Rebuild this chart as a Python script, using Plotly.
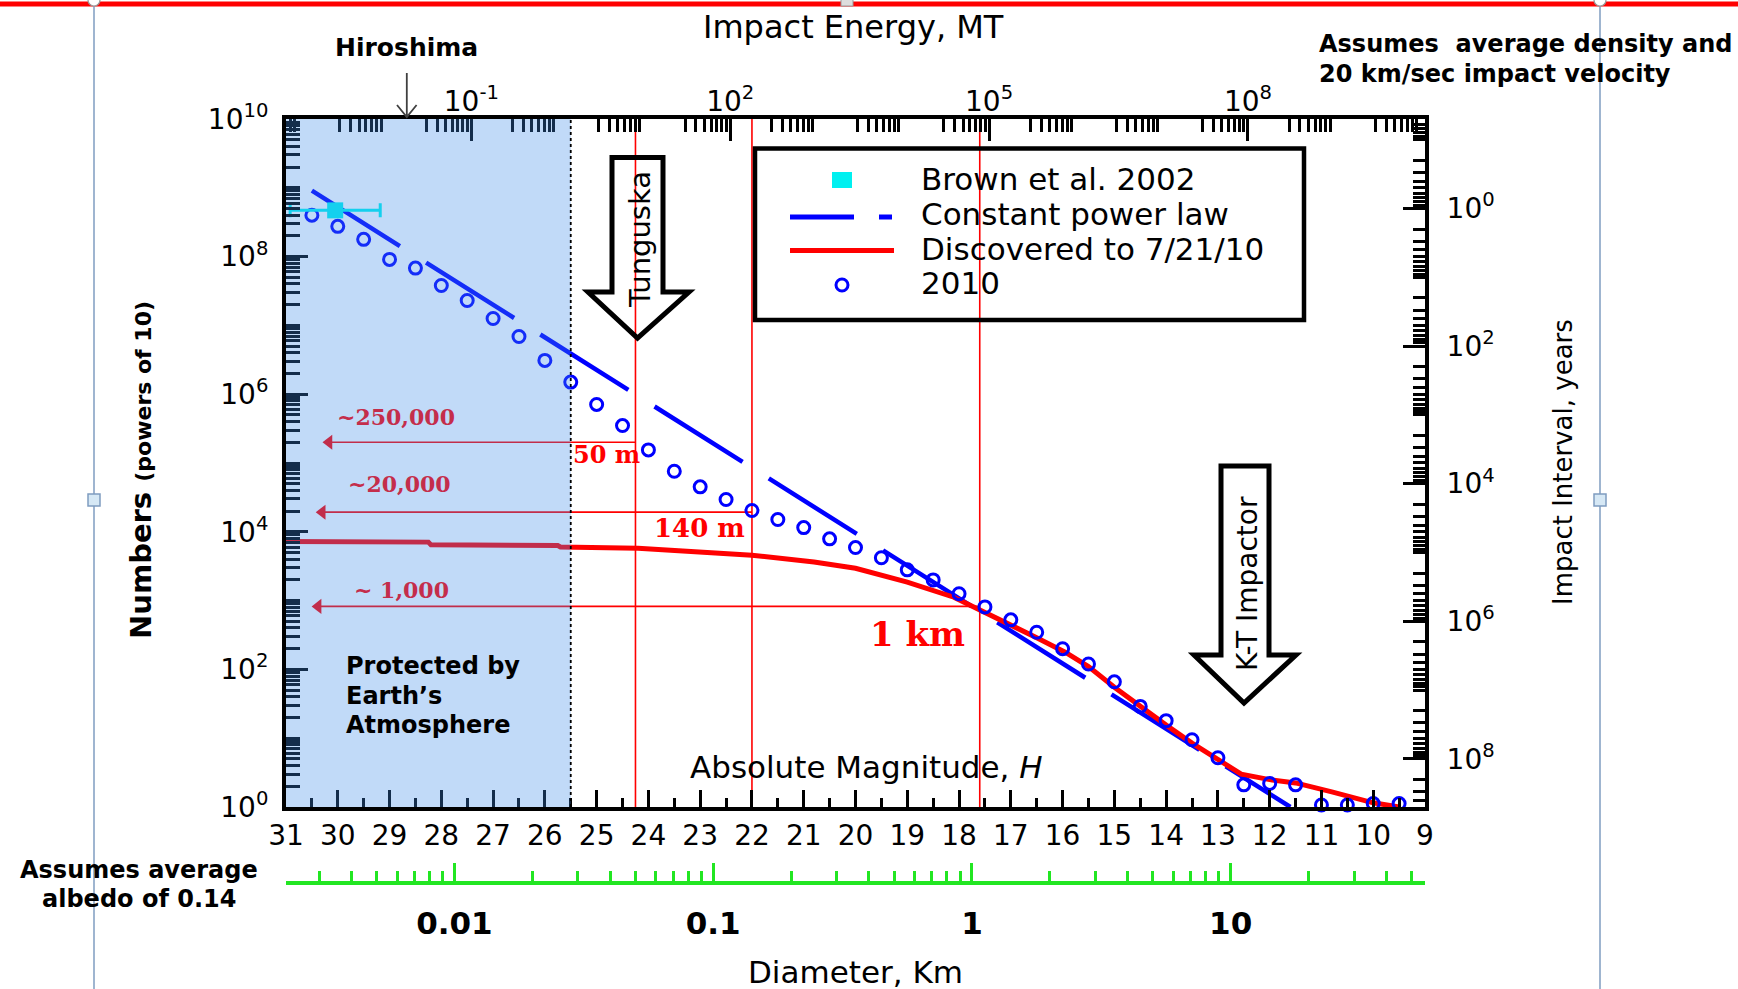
import plotly.graph_objects as go

# ------------------------------------------------------------------ data
# 2010 population estimate (absolute magnitude H -> cumulative number N)
H_2010 = [30.5, 30.0, 29.5, 29.0, 28.5, 28.0, 27.5, 27.0, 26.5, 26.0, 25.5,
          25.0, 24.5, 24.0, 23.5, 23.0, 22.5, 22.0, 21.5, 21.0, 20.5, 20.0,
          19.5, 19.0, 18.5, 18.0, 17.5, 17.0, 16.5, 16.0, 15.5, 15.0, 14.5,
          14.0, 13.5, 13.0, 12.5, 12.0, 11.5, 11.0, 10.5, 10.0, 9.5]
N_2010 = [4.0e8, 2.75e8, 1.78e8, 9.1e7, 6.8e7, 3.8e7, 2.3e7, 1.26e7, 6.9e6,
          3.1e6, 1.5e6, 7.1e5, 3.5e5, 1.55e5, 7.6e4, 4.5e4, 2.95e4, 2.04e4,
          1.51e4, 1.15e4, 7.9e3, 5.9e3, 4.2e3, 2.8e3, 2.0e3, 1.26e3, 810, 525,
          347, 200, 120, 66, 29, 18, 9.5, 5.2, 2.1, 2.2, 2.1, 1.07, 1.07, 1.12,
          1.12]

# Discovered to 7/21/10
H_disc = [31.0, 28.25, 28.2, 25.75, 25.7, 24.2, 22.0, 20.8, 20.0, 19.0, 18.1,
          17.6, 16.9, 16.5, 15.95, 15.5, 15.0, 14.5, 14.0, 13.5, 13.0, 12.55,
          12.0, 11.5, 10.8, 10.0, 9.5]
N_disc = [7240, 7080, 6460, 6310, 6030, 5750, 4570, 3630, 2950, 1860, 1120,
          740, 417, 288, 178, 110, 55, 29, 15.5, 8.5, 4.9, 3.0, 2.5, 2.24, 1.66,
          1.15, 1.0]

# Constant power law (end points)
H_powerlaw = [30.5, 11.6]
N_powerlaw = [9.1e8, 1.0]

# Brown et al. 2002
H_brown = [30.05]
N_brown = [4.7e8]
H_brown_err = [0.87]

series_names = ["Brown et al. 2002", "Constant power law",
                "Discovered to 7/21/10", "2010"]

# size thresholds (50 m, 140 m, 1 km) and the population counts they mark
threshold_H = [24.25, 22.0, 17.6]
threshold_N = [2.0e5, 1.93e4, 824]
threshold_arrow_H = [30.17, 30.30, 30.38]
threshold_sizes = ["50 m", "140 m", "1 km"]
threshold_counts = ["~250,000", "~20,000", "~ 1,000"]

atmosphere_H = 25.5          # limit of "Protected by Earth's Atmosphere"

# axes
H_ticks = list(range(31, 8, -1))
N_tickvals = [1, 1e2, 1e4, 1e6, 1e8, 1e10]
N_ticktext = ["10<sup>0</sup>", "10<sup>2</sup>", "10<sup>4</sup>",
              "10<sup>6</sup>", "10<sup>8</sup>", "10<sup>10</sup>"]
interval_tickvals = [1, 1e2, 1e4, 1e6, 1e8]
interval_ticktext = ["10<sup>0</sup>", "10<sup>2</sup>", "10<sup>4</sup>",
                     "10<sup>6</sup>", "10<sup>8</sup>"]
energy_tickvals = [0.1, 1e2, 1e5, 1e8]
energy_ticktext = ["10<sup>-1</sup>", "10<sup>2</sup>", "10<sup>5</sup>",
                   "10<sup>8</sup>"]
diam_tickvals = [0.01, 0.1, 1, 10]
diam_ticktext = ["0.01", "0.1", "1", "10"]

H_range = [31, 9]
N_range_log = [0, 10]
energy_range_log = [-3.148, 10.052]
diam_range_log = [-2.651, 1.751]
interval_range_log = [8.7, -1.3]

# ------------------------------------------------------------------ geometry
FIG_W, FIG_H = 1738, 989
L, R, T, B = 286, 1425, 119, 883      # paper area (B = diameter axis line)
PLOT_B = 807                          # bottom of the main plot


def px(x):
    return (x - L) / (R - L)


def py(y):
    return (B - y) / (B - T)


def path(points, close=False):
    s = "M" + " L".join(f"{px(x):.5f},{py(y):.5f}" for x, y in points)
    return s + (" Z" if close else "")


FONT = "DejaVu Sans"
SERIF = "DejaVu Serif"
BLUE = "#0000ff"
RED = "#ff0000"
CYAN = "#00f0f0"
GREEN = "#22e622"
CRIMSON = "#c42d4b"

fig = go.Figure()

fig.add_trace(go.Scatter(
    x=H_powerlaw, y=N_powerlaw, mode="lines", name=series_names[1],
    line=dict(color=BLUE, width=4.5, dash="104px,31px"), hoverinfo="skip"))
fig.add_trace(go.Scatter(
    x=H_disc, y=N_disc, mode="lines", name=series_names[2],
    line=dict(color=RED, width=5)))
for i in range(len(threshold_H)):
    fig.add_trace(go.Scatter(
        x=[threshold_H[i], threshold_arrow_H[i]],
        y=[threshold_N[i], threshold_N[i]], mode="lines",
        line=dict(color=RED, width=1.6), hoverinfo="skip"))
fig.add_trace(go.Scatter(
    x=threshold_arrow_H, y=threshold_N, mode="markers",
    marker=dict(symbol="triangle-left", size=13, color=RED), hoverinfo="skip"))
fig.add_trace(go.Scatter(
    x=H_2010, y=N_2010, mode="markers", name=series_names[3], cliponaxis=False,
    marker=dict(symbol="circle-open", size=12, color=BLUE,
                line=dict(width=3, color=BLUE))))
fig.add_trace(go.Scatter(
    x=H_brown, y=N_brown, mode="markers", name=series_names[0],
    marker=dict(symbol="square", size=16, color=CYAN),
    error_x=dict(type="data", array=H_brown_err, color=CYAN, thickness=3,
                 width=7)))
# empty traces so the secondary axes (energy, interval, diameter) are drawn
for xa, ya in (("x2", "y"), ("x", "y2"), ("x3", "y")):
    fig.add_trace(go.Scatter(x=[], y=[], xaxis=xa, yaxis=ya, mode="lines",
                             hoverinfo="skip", showlegend=False))

common = dict(showgrid=False, zeroline=False, showline=True, linecolor="black",
              linewidth=4, ticks="inside", tickcolor="black")
tfont = dict(family=FONT, size=28, color="black")

energy_minor = [k * 10.0 ** n for n in range(-4, 11) for k in range(3, 10)]

layout = dict(
    width=FIG_W, height=FIG_H, autosize=False, showlegend=False,
    paper_bgcolor="white", plot_bgcolor="white",
    margin=dict(l=L, r=FIG_W - R, t=T, b=FIG_H - B, pad=0, autoexpand=False),
    xaxis=dict(range=H_range, domain=[0, 1], anchor="y", tickmode="array",
               tickvals=H_ticks, ticktext=[str(v) for v in H_ticks],
               ticklen=17, tickwidth=2.5, tickfont=tfont, ticklabelstandoff=0,
               minor=dict(dtick=0.5, tick0=0, ticks="inside", ticklen=9,
                          tickwidth=2.5, tickcolor="black"), **common),
    yaxis=dict(type="log", range=N_range_log, domain=[py(PLOT_B), 1],
               anchor="x", tickmode="array", tickvals=N_tickvals,
               ticktext=N_ticktext, ticklen=22, tickwidth=3, tickfont=tfont,
               ticklabelstandoff=8,
               minor=dict(dtick="D1", ticks="inside", ticklen=14, tickwidth=3,
                          tickcolor="black"), **common),
    xaxis2=dict(type="log", range=energy_range_log, overlaying="x", side="top",
                anchor="y", tickmode="array", tickvals=energy_tickvals,
                ticktext=energy_ticktext, ticklen=22, tickwidth=3,
                tickfont=tfont, ticklabelstandoff=-7,
                minor=dict(tickmode="array", tickvals=energy_minor,
                           ticks="inside", ticklen=13, tickwidth=3,
                           tickcolor="black"), **common),
    yaxis2=dict(type="log", range=interval_range_log, overlaying="y",
                side="right", anchor="x", tickmode="array",
                tickvals=interval_tickvals, ticktext=interval_ticktext,
                ticklen=22, tickwidth=3, tickfont=tfont, ticklabelstandoff=12,
                minor=dict(dtick="D1", ticks="inside", ticklen=12,
                           tickwidth=3, tickcolor="black"), **common),
    xaxis3=dict(type="log", range=diam_range_log, overlaying="x",
                anchor="free", position=0, side="bottom", showgrid=False,
                zeroline=False, showline=True, linecolor=GREEN, linewidth=3.5,
                ticks="inside", tickcolor=GREEN, ticklen=18, tickwidth=2.5,
                tickmode="array", tickvals=diam_tickvals,
                ticktext=[f"<b>{t}</b>" for t in diam_ticktext],
                tickfont=dict(family=FONT, size=31, color="black"),
                ticklabelstandoff=12,
                minor=dict(dtick="D1", ticks="inside", ticklen=10,
                           tickwidth=2.5, tickcolor=GREEN)),
)
fig.update_layout(**layout)

shapes = []
# threshold verticals
for h in threshold_H:
    shapes.append(dict(type="line", xref="x", yref="y domain", x0=h, x1=h,
                       y0=0, y1=1, layer="below",
                       line=dict(color=RED, width=1.6)))
# atmosphere region (translucent overlay) and its dotted edge
shapes.append(dict(type="rect", xref="x", yref="y domain", x0=H_range[0],
                   x1=atmosphere_H, y0=0, y1=1, layer="above",
                   fillcolor="rgba(62,140,234,0.32)", line=dict(width=0)))
shapes.append(dict(type="line", xref="x", yref="y domain", x0=atmosphere_H,
                   x1=atmosphere_H, y0=0, y1=1, layer="above",
                   line=dict(color="black", width=1.8, dash="dot")))


# block arrows
def block_arrow(xl, xr, top, shoulder, hl, hr, tip):
    pts = [(xl, top), (xr, top), (xr, shoulder), (hr, shoulder), tip,
           (hl, shoulder), (xl, shoulder)]
    return dict(type="path", xref="paper", yref="paper", layer="above",
                path=path(pts, close=True), line=dict(color="black", width=5),
                fillcolor="rgba(0,0,0,0)")


shapes.append(block_arrow(612, 663, 157.5, 292, 588, 689, (637.5, 338)))
shapes.append(block_arrow(1221, 1269, 466, 655, 1194, 1296, (1244, 703)))

# Hiroshima arrow
shapes.append(dict(type="path", xref="paper", yref="paper", layer="above",
                   path=path([(406.8, 73), (406.8, 117)]) + " " +
                   path([(397, 105), (406.8, 117), (416.6, 105)]),
                   line=dict(color="#404040", width=1.8)))

# legend box and samples
shapes.append(dict(type="rect", xref="paper", yref="paper", layer="above",
                   x0=px(755), x1=px(1304), y0=py(320), y1=py(148.5),
                   line=dict(color="black", width=4.5)))
shapes.append(dict(type="rect", xref="paper", yref="paper", layer="above",
                   x0=px(832), x1=px(852), y0=py(188), y1=py(172),
                   fillcolor=CYAN, line=dict(width=0)))
shapes.append(dict(type="line", xref="paper", yref="paper", layer="above",
                   x0=px(790), x1=px(854), y0=py(217), y1=py(217),
                   line=dict(color=BLUE, width=5)))
shapes.append(dict(type="line", xref="paper", yref="paper", layer="above",
                   x0=px(879), x1=px(892), y0=py(217), y1=py(217),
                   line=dict(color=BLUE, width=5)))
shapes.append(dict(type="line", xref="paper", yref="paper", layer="above",
                   x0=px(790), x1=px(894), y0=py(250.5), y1=py(250.5),
                   line=dict(color=RED, width=5)))
shapes.append(dict(type="circle", xref="paper", yref="paper", layer="above",
                   x0=px(836), x1=px(848), y0=py(291), y1=py(279),
                   line=dict(color=BLUE, width=3)))

# slide frame decorations
FRAME = "#7f9cc0"
shapes.append(dict(type="line", xref="paper", yref="paper", layer="above",
                   x0=px(0), x1=px(FIG_W), y0=py(4), y1=py(4),
                   line=dict(color=RED, width=5)))
for xv in (94, 1600):
    shapes.append(dict(type="line", xref="paper", yref="paper", layer="above",
                       x0=px(xv), x1=px(xv), y0=py(6), y1=py(FIG_H),
                       line=dict(color=FRAME, width=1.5)))
    shapes.append(dict(type="rect", xref="paper", yref="paper", layer="above",
                       x0=px(xv - 6), x1=px(xv + 6), y0=py(506), y1=py(494),
                       fillcolor="#d6e8f5", line=dict(color=FRAME, width=1.5)))
    shapes.append(dict(type="circle", xref="paper", yref="paper",
                       layer="above", x0=px(xv - 6), x1=px(xv + 6),
                       y0=py(6), y1=py(-6), fillcolor="white",
                       line=dict(color="#999999", width=1.2)))
shapes.append(dict(type="rect", xref="paper", yref="paper", layer="above",
                   x0=px(841), x1=px(853), y0=py(6), y1=py(-2),
                   fillcolor="#dddddd", line=dict(color="#999999", width=1)))

fig.update_layout(shapes=shapes)


def ann(text, x, y, size, family=FONT, color="black", xanchor="center",
        angle=0):
    return dict(text=text, x=px(x), y=py(y), xref="paper", yref="paper",
                showarrow=False, xanchor=xanchor, yanchor="middle",
                textangle=angle,
                font=dict(family=family, size=size, color=color))


anns = [
    ann("Impact Energy, MT", 853.5, 27, 32),
    ann("<b>Hiroshima</b>", 406.5, 47.5, 25),
    ann("<b>Assumes  average density and</b>", 1317, 44.3, 24, xanchor="left"),
    ann("<b>20 km/sec impact velocity</b>", 1317, 74.3, 24, xanchor="left"),
    ann("<b>Numbers <span style='font-size:22px'>(powers of 10)</span></b>",
        141, 470, 29, angle=-90),
    ann("Impact Interval, years", 1563, 462, 26, angle=-90),
    ann("Absolute Magnitude, <i>H</i>", 866.8, 767, 31),
    ann("Diameter, Km", 855.7, 972, 31),
    ann("<b>Assumes average</b>", 138.5, 870, 24),
    ann("<b>albedo of 0.14</b>", 138.5, 899, 24),
    ann("<b>Protected by</b>", 343.6, 666, 24, xanchor="left"),
    ann("<b>Earth’s</b>", 343.6, 696, 24, xanchor="left"),
    ann("<b>Atmosphere</b>", 343.6, 725, 24, xanchor="left"),
    ann("Tunguska", 640, 240, 29, angle=-90),
    ann("K-T Impactor", 1247, 584, 28, angle=-90),
]
count_pos = [(395.7, 416.8), (399, 484.4), (401, 589.7)]
size_pos = [(606.3, 454.4, 24), (699.4, 527.6, 26), (917.8, 634, 34)]
for i in range(3):
    anns.append(ann(f"<b>{threshold_counts[i]}</b>", *count_pos[i], 22,
                    family=SERIF, color=CRIMSON))
    sx, sy, ss = size_pos[i]
    anns.append(ann(f"<b>{threshold_sizes[i]}</b>", sx, sy, ss,
                    family=SERIF, color=RED))
for name, yv in zip(series_names, [179, 214, 249, 283]):
    anns.append(ann(name, 919, yv, 31, xanchor="left"))

fig.update_layout(annotations=anns)

fig.write_html("out.html")
